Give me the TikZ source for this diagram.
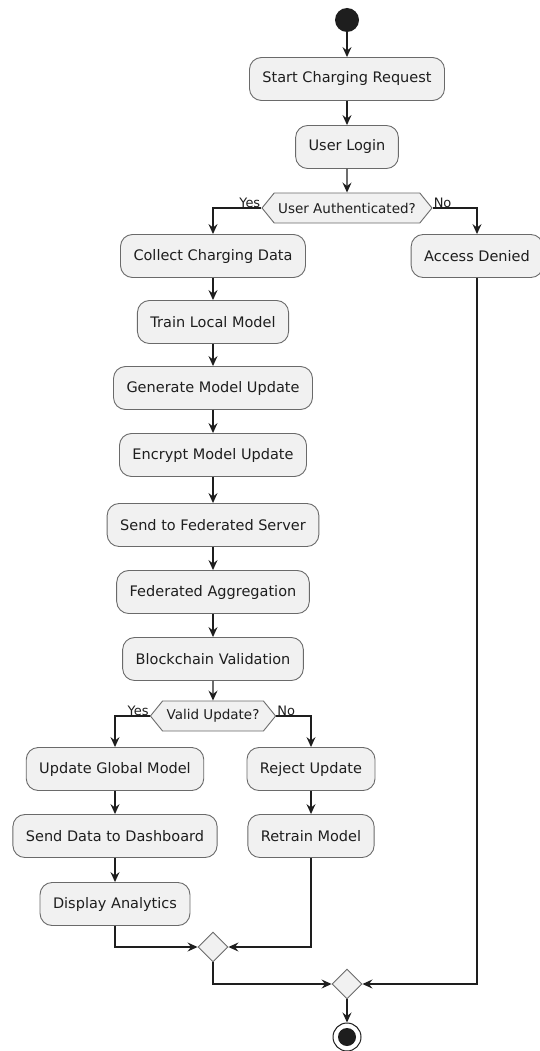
\documentclass[tikz,border=0pt]{standalone}
\usepackage{fontspec}
\setmainfont{DejaVu Sans}
\usetikzlibrary{arrows.meta,shapes.geometric,shapes.symbols}
\definecolor{boxfill}{HTML}{F1F1F1}
\definecolor{boxline}{HTML}{6A6A6A}
\definecolor{ink}{HTML}{1E1E1E}
\begin{document}
\begin{tikzpicture}[x=1pt,y=-1pt,
  act/.style={rectangle,rounded corners=12pt,draw=boxline,line width=0.9pt,fill=boxfill,
    minimum height=43pt,inner xsep=13pt,inner ysep=0pt,text=ink,
    font=\fontsize{14.5}{17}\selectfont},
  decision/.style={signal,signal to=west and east,signal pointer angle=102,draw=boxline,
    line width=0.9pt,fill=boxfill,minimum height=30pt,inner xsep=4pt,inner ysep=0pt,text=ink,
    font=\fontsize{13.5}{16}\selectfont},
  merge/.style={diamond,draw=boxline,line width=0.9pt,fill=boxfill,minimum size=30pt,inner sep=0pt},
  lbl/.style={font=\fontsize{13}{15}\selectfont,text=ink,inner sep=1pt},
  arr/.style={draw=ink,line width=1.2pt,-{Stealth[length=10pt,width=9pt,inset=3.5pt]}},
  ln/.style={draw=ink,line width=1.2pt}]
\useasboundingbox (0,0) rectangle (539,1051);

% start and end markers
\node (start) [circle,fill=ink,minimum size=24pt,inner sep=0pt] at (347,20) {};
\node (stop) [circle,draw=ink,line width=1pt,fill=white,minimum size=28pt,inner sep=0pt] at (347,1037) {};
\node (stopdot) [circle,fill=ink,minimum size=18pt,inner sep=0pt] at (347,1037) {};

% main flow
\node (scr) [act] at (347,79) {Start Charging Request};
\node (login) [act] at (347,147) {User Login};
\node (auth) [decision] at (347,208) {User Authenticated?};
\node (collect) [act] at (213,256) {Collect Charging Data};
\node (denied) [act] at (477,256) {Access Denied};
\node (train) [act] at (213,322) {Train Local Model};
\node (gen) [act] at (213,388) {Generate Model Update};
\node (enc) [act] at (213,455) {Encrypt Model Update};
\node (send) [act] at (213,525) {Send to Federated Server};
\node (agg) [act] at (213,592) {Federated Aggregation};
\node (chain) [act] at (213,659) {Blockchain Validation};
\node (valid) [decision] at (213,716) {Valid Update?};
\node (ugm) [act] at (115,769) {Update Global Model};
\node (reject) [act] at (311,769) {Reject Update};
\node (dash) [act] at (115,836) {Send Data to Dashboard};
\node (retrain) [act] at (311,836) {Retrain Model};
\node (disp) [act] at (115,904) {Display Analytics};
\node (m1) [merge] at (213,947) {};
\node (m2) [merge] at (347,984) {};

% connectors
\draw[arr] (start) -- (scr);
\draw[arr] (scr) -- (login);
\draw[arr] (login) -- (auth);
\draw[arr] (auth.west) -| (collect.north);
\draw[arr] (auth.east) -| (denied.north);
\node (yes1) [lbl,anchor=south east] at ([yshift=-1pt]auth.west) {Yes};
\node (no1) [lbl,anchor=south west] at ([yshift=-1pt]auth.east) {No};
\draw[arr] (collect) -- (train);
\draw[arr] (train) -- (gen);
\draw[arr] (gen) -- (enc);
\draw[arr] (enc) -- (send);
\draw[arr] (send) -- (agg);
\draw[arr] (agg) -- (chain);
\draw[arr] (chain) -- (valid);
\draw[arr] (valid.west) -| (ugm.north);
\draw[arr] (valid.east) -| (reject.north);
\node (yes2) [lbl,anchor=south east] at ([yshift=-1pt]valid.west) {Yes};
\node (no2) [lbl,anchor=south west] at ([yshift=-1pt]valid.east) {No};
\draw[arr] (ugm) -- (dash);
\draw[arr] (dash) -- (disp);
\draw[arr] (reject) -- (retrain);
\draw[arr] (disp.south) |- (m1.west);
\draw[arr] (retrain.south) |- (m1.east);
\draw[arr] (m1.south) |- (m2.west);
\draw[arr] (denied.south) |- (m2.east);
\draw[arr] (m2.south) -- (stop.north);
\end{tikzpicture}
\end{document}
